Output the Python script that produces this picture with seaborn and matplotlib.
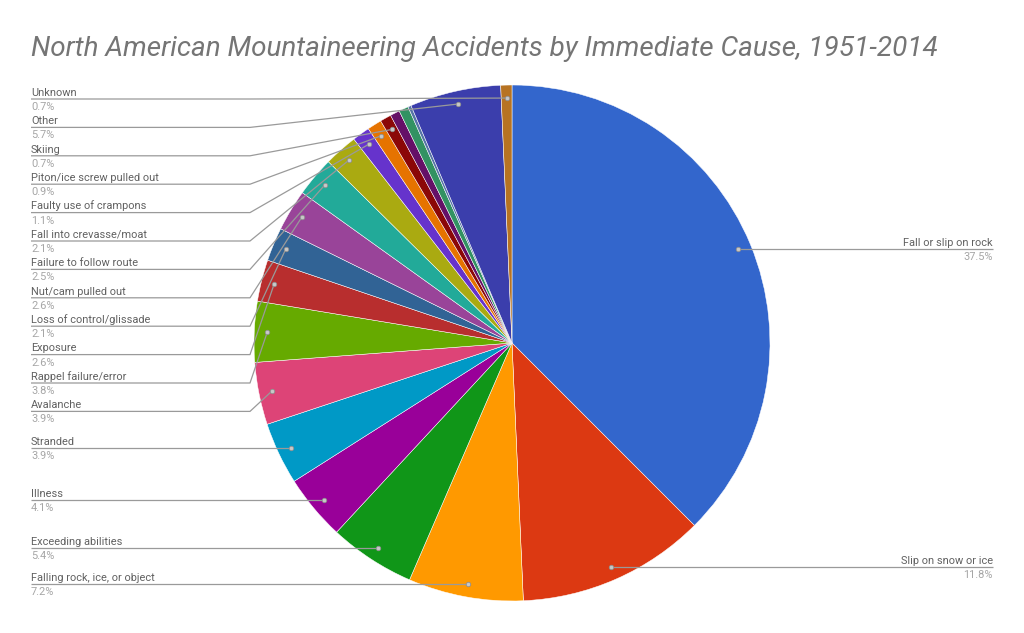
import numpy as np
import matplotlib
matplotlib.use("Agg")
import matplotlib.pyplot as plt
import seaborn as sns

# ---- data ----
categories = [
    "Fall or slip on rock", "Slip on snow or ice", "Falling rock, ice, or object",
    "Exceeding abilities", "Illness", "Stranded", "Avalanche", "Rappel failure/error",
    "Exposure", "Loss of control/glissade", "Nut/cam pulled out",
    "Failure to follow route", "Fall into crevasse/moat", "Faulty use of crampons",
    "Piton/ice screw pulled out", "Skiing", "", "", "", "Other", "Unknown",
]
percents = [37.5, 11.8, 7.2, 5.4, 4.1, 3.9, 3.9, 3.8, 2.6, 2.1, 2.6, 2.5, 2.1,
            1.1, 0.9, 0.7, 0.6, 0.6, 0.2, 5.7, 0.7]
title = "North American Mountaineering Accidents by Immediate Cause, 1951-2014"

# ---- style ----
google = ["#3366cc", "#dc3912", "#ff9900", "#109618", "#990099", "#0099c6",
          "#dd4477", "#66aa00", "#b82e2e", "#316395", "#994499", "#22aa99",
          "#aaaa11", "#6633cc", "#e67300", "#8b0707", "#651067", "#329262",
          "#5574a6", "#3b3eac", "#b77322"]
sns.set_theme(style="white")
plt.rcParams['font.family'] = ['Roboto', 'DejaVu Sans']

W, H = 1024, 633
CX, CY, R = 512, 343, 258       # pixel coords (y down)
DOT_R = 245
NAME_C = "#616161"
PCT_C = "#a6a6a6"
LINE_C = "#9a9a9a"
FS = 7.9

fig = plt.figure(figsize=(W / 100, H / 100), dpi=100)
ax = fig.add_axes([0, 0, 1, 1])

def py(y):
    return H - y

palette = sns.color_palette(google, n_colors=len(percents))
wedges, _ = ax.pie(percents, colors=palette, startangle=90, counterclock=False,
                   center=(CX, py(CY)), radius=R,
                   wedgeprops=dict(edgecolor="white", linewidth=0.35))
ax.set_xlim(0, W)
ax.set_ylim(0, H)
ax.set_aspect("equal")
ax.axis("off")

# dots and label layout
left, right = [], []
for w, name, p in zip(wedges, categories, percents):
    if not name:
        continue
    th = np.deg2rad((w.theta1 + w.theta2) / 2)
    dx = CX + DOT_R * np.cos(th)
    dy_px = CY - DOT_R * np.sin(th)
    item = dict(name=name, pct=f"{p:.1f}%", dx=dx, dy=dy_px)
    (right if dx > CX else left).append(item)

SPACING, TOP = 28.4, 99

def layout(items):
    items.sort(key=lambda d: d["dy"])
    prev = -1e9
    for it in items:
        y = max(it["dy"], prev + SPACING, TOP)
        it["y"] = y
        prev = y

layout(left)
layout(right)

for it in left:
    y = it["y"]
    ax.plot([31, 250, it["dx"]], [py(y), py(y), py(it["dy"])], color=LINE_C, lw=0.9,
            solid_capstyle="butt", zorder=3)
    ax.plot(it["dx"], py(it["dy"]), "o", ms=3.2, color="#c8c8c8", mec="#909090",
            mew=0.6, zorder=4)
    ax.text(31, py(y - 3.2), it["name"], color=NAME_C, fontsize=FS,
            ha="left", va="baseline")
    ax.text(31, py(y + 11.0), it["pct"], color=PCT_C, fontsize=FS,
            ha="left", va="baseline")

for it in right:
    y = it["y"]
    ax.plot([it["dx"], W - 250, 993], [py(it["dy"]), py(y), py(y)], color=LINE_C,
            lw=0.9, solid_capstyle="butt", zorder=3)
    ax.plot(it["dx"], py(it["dy"]), "o", ms=3.2, color="#c8c8c8", mec="#909090",
            mew=0.6, zorder=4)
    ax.text(993, py(y - 3.2), it["name"], color=NAME_C, fontsize=FS,
            ha="right", va="baseline")
    ax.text(993, py(y + 11.0), it["pct"], color=PCT_C, fontsize=FS,
            ha="right", va="baseline")

ax.text(31, py(56), title, color="#757575", fontsize=20.1, style="italic",
        ha="left", va="baseline")

fig.savefig("out.png", dpi=100)
